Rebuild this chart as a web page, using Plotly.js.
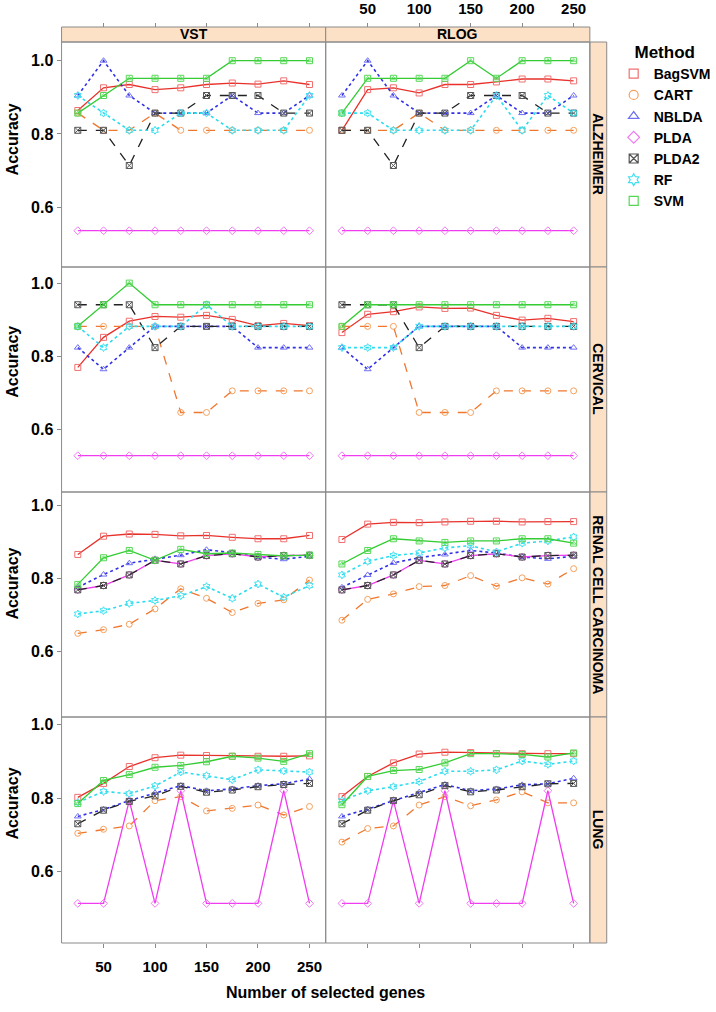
<!DOCTYPE html>
<html>
<head>
<meta charset="utf-8">
<script src="https://cdn.plot.ly/plotly-3.0.1.min.js"></script>
<style>html,body{margin:0;padding:0;background:#fff;}#chart{width:716px;height:1012px;}</style>
</head>
<body>
<div id="chart"></div>
<script>
// ---- data ----
const genes = [25, 50, 75, 100, 125, 150, 175, 200, 225, 250];
const methods = ['BagSVM', 'CART', 'NBLDA', 'PLDA', 'PLDA2', 'RF', 'SVM'];
const datasets = ['ALZHEIMER', 'CERVICAL', 'RENAL CELL CARCINOMA', 'LUNG'];
const transforms = ['VST', 'RLOG'];
const xTicks = [50, 100, 150, 200, 250];
const yTicks = [0.6, 0.8, 1.0];

// each panel: rows in method order BagSVM, CART, NBLDA, PLDA, PLDA2, RF, SVM
const alzheimerVST = [
  [0.864, 0.926, 0.935, 0.921, 0.926, 0.935, 0.939, 0.936, 0.945, 0.935],
  [0.857, 0.810, 0.810, 0.857, 0.810, 0.810, 0.810, 0.810, 0.810, 0.810],
  [0.905, 1.000, 0.905, 0.857, 0.857, 0.857, 0.905, 0.857, 0.857, 0.905],
  [0.536, 0.536, 0.536, 0.536, 0.536, 0.536, 0.536, 0.536, 0.536, 0.536],
  [0.810, 0.810, 0.714, 0.857, 0.857, 0.905, 0.905, 0.905, 0.857, 0.857],
  [0.905, 0.857, 0.810, 0.810, 0.857, 0.857, 0.810, 0.810, 0.810, 0.905],
  [0.857, 0.905, 0.952, 0.952, 0.952, 0.952, 1.000, 1.000, 1.000, 1.000]
];
const alzheimerRLOG = [
  [0.810, 0.921, 0.926, 0.912, 0.935, 0.935, 0.942, 0.950, 0.950, 0.945],
  [0.810, 0.810, 0.810, 0.857, 0.810, 0.810, 0.810, 0.810, 0.810, 0.810],
  [0.905, 1.000, 0.905, 0.857, 0.857, 0.857, 0.905, 0.857, 0.857, 0.905],
  [0.536, 0.536, 0.536, 0.536, 0.536, 0.536, 0.536, 0.536, 0.536, 0.536],
  [0.810, 0.810, 0.714, 0.857, 0.857, 0.905, 0.905, 0.905, 0.857, 0.857],
  [0.857, 0.857, 0.810, 0.810, 0.810, 0.810, 0.905, 0.810, 0.905, 0.857],
  [0.857, 0.952, 0.952, 0.952, 0.952, 1.000, 0.952, 1.000, 1.000, 1.000]
];
const cervicalVST = [
  [0.770, 0.852, 0.896, 0.909, 0.907, 0.912, 0.901, 0.884, 0.890, 0.884],
  [0.882, 0.882, 0.882, 0.882, 0.647, 0.647, 0.706, 0.706, 0.706, 0.706],
  [0.824, 0.765, 0.824, 0.882, 0.882, 0.882, 0.882, 0.824, 0.824, 0.824],
  [0.529, 0.529, 0.529, 0.529, 0.529, 0.529, 0.529, 0.529, 0.529, 0.529],
  [0.941, 0.941, 0.941, 0.824, 0.882, 0.882, 0.882, 0.882, 0.882, 0.882],
  [0.882, 0.824, 0.882, 0.882, 0.882, 0.941, 0.882, 0.882, 0.882, 0.882],
  [0.882, 0.941, 1.000, 0.941, 0.941, 0.941, 0.941, 0.941, 0.941, 0.941]
];
const cervicalRLOG = [
  [0.865, 0.915, 0.922, 0.935, 0.931, 0.932, 0.912, 0.899, 0.904, 0.895],
  [0.882, 0.882, 0.882, 0.647, 0.647, 0.647, 0.706, 0.706, 0.706, 0.706],
  [0.824, 0.765, 0.824, 0.882, 0.882, 0.882, 0.882, 0.824, 0.824, 0.824],
  [0.529, 0.529, 0.529, 0.529, 0.529, 0.529, 0.529, 0.529, 0.529, 0.529],
  [0.941, 0.941, 0.941, 0.824, 0.882, 0.882, 0.882, 0.882, 0.882, 0.882],
  [0.824, 0.824, 0.824, 0.882, 0.882, 0.882, 0.882, 0.882, 0.882, 0.882],
  [0.882, 0.941, 0.941, 0.941, 0.941, 0.941, 0.941, 0.941, 0.941, 0.941]
];
const renalVST = [
  [0.865, 0.915, 0.921, 0.920, 0.916, 0.917, 0.912, 0.908, 0.908, 0.917],
  [0.649, 0.659, 0.674, 0.716, 0.771, 0.745, 0.706, 0.731, 0.741, 0.795],
  [0.775, 0.810, 0.841, 0.853, 0.863, 0.878, 0.870, 0.858, 0.852, 0.860],
  [0.768, 0.780, 0.809, 0.849, 0.839, 0.862, 0.867, 0.858, 0.862, 0.863],
  [0.768, 0.780, 0.809, 0.849, 0.839, 0.862, 0.867, 0.858, 0.862, 0.863],
  [0.702, 0.711, 0.731, 0.739, 0.752, 0.777, 0.745, 0.784, 0.748, 0.780],
  [0.783, 0.856, 0.876, 0.849, 0.879, 0.867, 0.869, 0.865, 0.861, 0.863]
];
const renalRLOG = [
  [0.906, 0.948, 0.953, 0.952, 0.954, 0.956, 0.956, 0.954, 0.955, 0.955],
  [0.685, 0.742, 0.757, 0.777, 0.780, 0.807, 0.778, 0.801, 0.784, 0.826],
  [0.775, 0.809, 0.842, 0.856, 0.865, 0.876, 0.869, 0.858, 0.853, 0.860],
  [0.768, 0.780, 0.809, 0.849, 0.839, 0.862, 0.867, 0.858, 0.862, 0.863],
  [0.768, 0.780, 0.809, 0.849, 0.839, 0.862, 0.867, 0.858, 0.862, 0.863],
  [0.809, 0.846, 0.862, 0.869, 0.883, 0.889, 0.872, 0.896, 0.902, 0.913],
  [0.839, 0.876, 0.908, 0.902, 0.898, 0.902, 0.902, 0.908, 0.908, 0.896]
];
const lungVST = [
  [0.802, 0.840, 0.886, 0.910, 0.917, 0.916, 0.914, 0.914, 0.914, 0.915],
  [0.704, 0.715, 0.724, 0.793, 0.804, 0.765, 0.772, 0.781, 0.754, 0.777],
  [0.750, 0.769, 0.793, 0.814, 0.834, 0.820, 0.825, 0.834, 0.839, 0.852],
  [0.513, 0.513, 0.793, 0.513, 0.820, 0.513, 0.513, 0.513, 0.820, 0.513],
  [0.730, 0.767, 0.791, 0.806, 0.832, 0.816, 0.822, 0.831, 0.837, 0.840],
  [0.788, 0.818, 0.812, 0.833, 0.871, 0.861, 0.850, 0.877, 0.874, 0.871],
  [0.785, 0.848, 0.864, 0.884, 0.889, 0.899, 0.914, 0.909, 0.900, 0.921]
];
const lungRLOG = [
  [0.804, 0.859, 0.896, 0.920, 0.925, 0.924, 0.921, 0.921, 0.921, 0.921],
  [0.680, 0.717, 0.724, 0.781, 0.804, 0.779, 0.795, 0.817, 0.787, 0.787],
  [0.750, 0.770, 0.793, 0.816, 0.837, 0.820, 0.825, 0.836, 0.839, 0.854],
  [0.513, 0.513, 0.793, 0.513, 0.820, 0.513, 0.513, 0.513, 0.820, 0.513],
  [0.730, 0.767, 0.793, 0.809, 0.834, 0.817, 0.822, 0.831, 0.839, 0.840],
  [0.793, 0.820, 0.831, 0.845, 0.873, 0.873, 0.877, 0.901, 0.892, 0.901],
  [0.782, 0.859, 0.875, 0.878, 0.896, 0.921, 0.921, 0.919, 0.912, 0.923]
];

// ---- styles ----
const lineColors   = ['#E8312A', '#F0772E', '#3030E8', '#F03CF0', '#222222', '#2ADCEE', '#33CC33'];
const markerColors = ['#F07070', '#F5A15E', '#6F6FF0', '#F07AF0', '#555555', '#40E0F0', '#55D855'];
const dashes  = ['solid', 'dash', 'dot', 'solid', 'dash', 'dot', 'solid'];
const symbols = ['square-open', 'circle-open', 'triangle-up-open', 'diamond-open', 'square-x-open', 'hexagram-open', 'square-open'];

const panels = [alzheimerVST, alzheimerRLOG, cervicalVST, cervicalRLOG, renalVST, renalRLOG, lungVST, lungRLOG];

const W = 716, H = 1012;
const colX = [[62, 328], [328, 594]];
const rowBounds = [42, 267, 492, 717, 943];
const rowRanges = [[0.437, 1.051], [0.430, 1.044], [0.420, 1.036], [0.405, 1.021]];
const stripTop = 27;
const stripRight = [594, 611];
const fx = p => p / W;
const fy = p => 1 - p / H;
const FONT = 'Liberation Sans, Arial, sans-serif';
const STRIPFONT = 'Liberation Sans Narrow, Liberation Sans, Arial, sans-serif';
const xRange = [9.25, 265.75];
const gray = '#8a8a8a';
const stripFill = '#FCE1C6';

const traces = [];
const layout = {
  width: W, height: H,
  margin: {l: 0, r: 0, t: 0, b: 0},
  paper_bgcolor: '#fff', plot_bgcolor: '#fff',
  font: {family: FONT, color: '#000'},
  showlegend: true,
  legend: {
    x: fx(618), y: fy(36), xanchor: 'left', yanchor: 'top',
    title: {text: 'Method', side: 'top center', font: {size: 17, weight: 'bold', family: FONT}},
    font: {size: 14, weight: 'bold', family: FONT},
    tracegroupgap: 0, itemwidth: 30, bgcolor: 'rgba(0,0,0,0)'
  },
  shapes: [], annotations: []
};

panels.forEach((panel, idx) => {
  const row = Math.floor(idx / 2), col = idx % 2;
  const n = idx + 1;
  const xa = 'x' + (n === 1 ? '' : n), ya = 'y' + (n === 1 ? '' : n);
  panel.forEach((vals, k) => {
    traces.push({
      x: genes, y: vals, xaxis: xa, yaxis: ya,
      type: 'scatter', mode: 'lines+markers', name: methods[k],
      line: {color: lineColors[k], dash: dashes[k], width: k === 2 || k === 5 ? 1.6 : 1.3},
      marker: {symbol: symbols[k], size: 6, color: markerColors[k], line: {width: 1, color: markerColors[k]}},
      showlegend: false, hoverinfo: 'skip', cliponaxis: false
    });
  });
  // inner triangle of the SVM symbol (square with triangle)
  traces.push({
    x: genes, y: panel[6], xaxis: xa, yaxis: ya, type: 'scatter', mode: 'markers', name: 'SVM',
    marker: {symbol: 'triangle-up-open', size: 4, color: markerColors[6], line: {width: 0.8, color: markerColors[6]}},
    showlegend: false, hoverinfo: 'skip', cliponaxis: false
  });
  const top = rowBounds[row], bot = rowBounds[row + 1];
  const xDom = [fx(colX[col][0]), fx(colX[col][1])];
  const yDom = [fy(bot), fy(top)];
  const xAxis = {
    domain: xDom, range: xRange, tickvals: xTicks, ticktext: xTicks.map(String),
    showgrid: false, zeroline: false, showline: false, fixedrange: true,
    tickfont: {size: 15, weight: 'bold', family: FONT}, tickcolor: gray, ticklen: 4, tickwidth: 1
  };
  if (row === 0) {
    Object.assign(xAxis, {anchor: 'free', position: fy(stripTop), side: 'top', ticks: 'outside',
      showticklabels: col === 1, ticklabelstandoff: 3});
  } else if (row === 3) {
    Object.assign(xAxis, {anchor: ya, side: 'bottom', ticks: 'outside', showticklabels: col === 0,
      ticklabelstandoff: 6});
  } else {
    Object.assign(xAxis, {anchor: ya, ticks: '', showticklabels: false});
  }
  layout['xaxis' + (n === 1 ? '' : n)] = xAxis;
  layout['yaxis' + (n === 1 ? '' : n)] = {
    domain: yDom, range: rowRanges[row], anchor: xa, tickvals: yTicks, ticktext: yTicks.map(v => v.toFixed(1)),
    showgrid: false, zeroline: false, showline: false, fixedrange: true,
    ticks: col === 0 ? 'outside' : '', ticklen: 4, tickcolor: gray, showticklabels: col === 0,
    tickfont: {size: 16, weight: 'bold', family: FONT}
  };
  layout.shapes.push({type: 'rect', xref: 'paper', yref: 'paper', x0: xDom[0], x1: xDom[1], y0: yDom[0], y1: yDom[1],
    line: {color: gray, width: 1}, fillcolor: 'rgba(0,0,0,0)', layer: 'above'});
  if (col === 0) {
    layout.annotations.push({xref: 'paper', yref: ya, x: fx(13), y: 0.785,
      text: 'Accuracy', showarrow: false, textangle: -90, xanchor: 'center', yanchor: 'middle',
      font: {size: 16, weight: 'bold', family: FONT}});
  }
});

// top strips
transforms.forEach((t, col) => {
  layout.shapes.push({type: 'rect', xref: 'paper', yref: 'paper', x0: fx(colX[col][0]), x1: fx(colX[col][1]),
    y0: fy(rowBounds[0]), y1: fy(stripTop), line: {color: gray, width: 1}, fillcolor: stripFill, layer: 'below'});
  layout.annotations.push({xref: 'paper', yref: 'paper', x: fx((colX[col][0] + colX[col][1]) / 2), y: fy((stripTop + rowBounds[0]) / 2),
    text: t, showarrow: false, xanchor: 'center', yanchor: 'middle',
    font: {size: 14, weight: 'bold', family: STRIPFONT}});
});
// right strips
datasets.forEach((d, row) => {
  const top = rowBounds[row], bot = rowBounds[row + 1];
  layout.shapes.push({type: 'rect', xref: 'paper', yref: 'paper', x0: fx(stripRight[0]), x1: fx(stripRight[1]),
    y0: fy(bot), y1: fy(top), line: {color: gray, width: 1}, fillcolor: stripFill, layer: 'below'});
  layout.annotations.push({xref: 'paper', yref: 'paper', x: fx((stripRight[0] + stripRight[1]) / 2), y: fy((top + bot) / 2),
    text: d, showarrow: false, textangle: 90, xanchor: 'center', yanchor: 'middle',
    font: {size: 14, weight: 'bold', family: STRIPFONT}});
});
layout.annotations.push({xref: 'paper', yref: 'paper', x: fx(328), y: fy(992),
  text: 'Number of selected genes', showarrow: false, xanchor: 'center', yanchor: 'middle',
  font: {size: 16, weight: 'bold', family: FONT}});

// legend entries (symbols only)
methods.forEach((m, k) => {
  traces.push({x: [null], y: [null], xaxis: 'x', yaxis: 'y', type: 'scatter', mode: 'markers', name: m,
    marker: {symbol: symbols[k], size: 9, color: markerColors[k], line: {width: 1.2, color: markerColors[k]}},
    showlegend: true, hoverinfo: 'skip'});
});

Plotly.newPlot('chart', traces, layout, {staticPlot: true, displayModeBar: false});
</script>
</body>
</html>
